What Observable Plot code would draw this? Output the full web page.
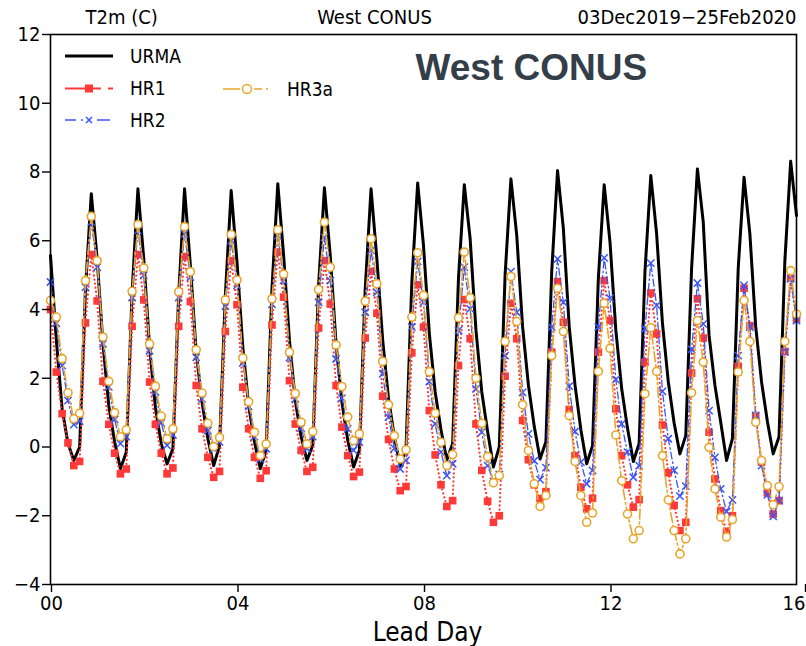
<!DOCTYPE html>
<html><head><meta charset="utf-8">
<script src="https://cdn.jsdelivr.net/npm/d3@7"></script>
<script src="https://cdn.jsdelivr.net/npm/@observablehq/plot@0.6"></script>
<style>body{margin:0;background:#fff}#chart{width:806px;height:646px}</style>
</head><body><div id="chart"></div>
<script>
// 3-hourly values, lead day 0 .. 16
const urma = [
 5.57,3.1,1.1,0.1,-0.39,0.0,4.6,7.37,
 5.48,3.0,1.2,0.15,-0.63,-0.15,4.5,7.51,
 5.47,2.9,1.15,0.1,-0.49,-0.05,4.45,7.51,
 5.28,2.76,1.3,0.24,-0.54,0.04,4.41,7.46,
 5.38,2.9,1.2,0.15,-0.63,-0.1,4.6,7.66,
 5.57,3.1,1.35,0.3,-0.39,0.05,4.7,7.54,
 5.57,3.0,1.3,0.2,-0.58,-0.1,4.6,7.51,
 5.47,3.1,1.4,0.3,-0.55,-0.05,4.8,7.68,
 5.86,3.3,1.6,0.5,-0.38,0.1,4.9,7.63,
 6.06,3.4,1.6,0.45,-0.58,0.0,5.0,7.8,
 6.15,3.5,1.8,0.6,-0.35,0.15,5.1,8.04,
 6.35,3.5,1.8,0.5,-0.49,0.04,4.9,7.63,
 5.96,3.4,1.7,0.55,-0.42,0.1,5.1,7.9,
 6.2,3.6,1.9,0.7,-0.2,0.33,5.2,8.09,
 6.54,3.24,1.8,0.72,-0.39,0.24,5.2,7.85,
 6.2,3.5,1.9,0.75,-0.2,0.3,5.4,8.31,
 6.73];
const hr1 = [
 4.0,2.18,0.97,0.12,-0.54,-0.42,3.61,5.6,
 4.25,1.91,0.66,-0.18,-0.78,-0.64,3.51,5.6,
 4.28,1.89,0.66,-0.18,-0.78,-0.61,3.51,5.54,
 4.23,1.79,0.53,-0.3,-0.88,-0.71,3.36,5.42,
 4.14,1.74,0.53,-0.3,-0.91,-0.69,3.55,5.67,
 4.36,1.93,0.67,-0.1,-0.71,-0.59,3.46,5.42,
 4.16,1.79,0.58,-0.25,-0.86,-0.73,3.17,5.11,
 3.89,1.48,0.22,-0.64,-1.27,-1.15,2.74,4.72,
 3.49,1.06,-0.23,-1.1,-1.73,-1.56,2.37,4.29,
 3.15,0.67,-0.68,-1.58,-2.19,-2.0,2.06,4.18,
 3.15,0.77,-0.37,-1.1,-1.5,-1.3,2.76,4.81,
 3.63,1.09,-0.25,-1.17,-1.8,-1.49,2.76,4.84,
 3.68,1.11,-0.25,-1.1,-1.75,-1.53,2.47,4.48,
 3.29,0.64,-0.75,-1.7,-2.43,-2.19,2.15,4.31,
 3.17,0.43,-0.93,-1.85,-2.48,-2.0,2.35,4.62,
 3.53,0.9,-0.44,-1.33,-1.95,-1.56,2.78,4.91,
 3.73];
const hr2 = [
 4.8,3.6,2.37,1.35,0.65,0.75,4.65,6.54,
 5.23,3.0,1.75,0.8,0.1,0.3,4.35,6.3,
 5.0,2.8,1.6,0.7,0.05,0.35,4.35,6.2,
 4.94,2.61,1.4,0.48,-0.05,0.15,4.1,6.0,
 4.7,2.45,1.18,0.3,-0.35,-0.05,4.15,6.15,
 4.85,2.6,1.4,0.55,-0.05,0.3,4.21,6.1,
 4.84,2.56,1.42,0.53,-0.1,0.14,3.92,5.72,
 4.5,2.13,0.87,-0.04,-0.64,-0.39,3.49,5.4,
 4.21,1.9,0.67,-0.15,-0.83,-0.49,3.39,5.23,
 4.02,1.69,0.43,-0.54,-1.0,-0.8,2.66,5.1,
 3.92,1.59,0.38,-0.4,-0.95,-0.6,3.49,5.47,
 4.21,1.77,0.45,-0.44,-1.07,-0.68,3.49,5.5,
 4.33,1.96,0.67,-0.15,-0.88,-0.54,3.44,5.35,
 4.12,1.62,0.24,-0.68,-1.43,-1.14,2.84,4.77,
 3.58,1.06,-0.3,-1.22,-1.88,-1.54,2.66,4.7,
 3.49,0.92,-0.54,-1.39,-2.02,-1.56,2.76,4.89,
 3.68];
const hr3a = [
 4.26,3.78,2.57,1.58,0.82,0.98,4.84,6.71,
 5.42,3.2,1.91,1.0,0.3,0.5,4.53,6.47,
 5.21,3.0,1.77,0.9,0.24,0.53,4.52,6.41,
 5.1,2.83,1.57,0.69,0.01,0.28,4.28,6.18,
 4.86,2.59,1.32,0.43,-0.25,0.09,4.31,6.32,
 5.03,2.76,1.56,0.72,0.09,0.45,4.58,6.54,
 5.23,2.97,1.76,0.87,0.18,0.38,4.24,6.06,
 4.75,2.49,1.23,0.33,-0.35,-0.08,3.78,5.65,
 4.41,2.19,0.98,0.14,-0.54,-0.22,3.76,5.67,
 4.34,2.0,0.69,-0.28,-1.04,-0.83,3.07,4.96,
 3.65,1.23,-0.1,-1.07,-1.73,-1.41,2.66,4.62,
 3.36,0.91,-0.42,-1.41,-2.19,-1.92,2.2,4.18,
 2.87,0.35,-0.98,-1.95,-2.67,-2.43,1.55,3.47,
 2.2,-0.25,-1.54,-2.43,-3.11,-2.67,1.58,3.68,
 2.47,-0.01,-1.22,-2.04,-2.62,-2.11,2.18,4.26,
 3.07,0.72,-0.39,-1.12,-1.68,-1.15,3.07,5.13,
 3.87];
const seriesNames = ["URMA", "HR1", "HR2", "HR3a"];
const xTicks = [0, 4, 8, 12];
const xTickLast = [16];
const yTicks = [-4, -2, 0, 2, 4, 6, 8, 10, 12];
const titleLeft = "T2m (C)";
const titleMid = "West CONUS";
const titleRight = "03Dec2019\u221225Feb2020";
const bigLabel = "West CONUS";
const xLabel = "Lead Day";
const stepsPerDay = 8;

const rows = vals => vals.map((v, i) => ({day: i / stepsPerDay, v}));
const F = "'DejaVu Sans Condensed','DejaVu Sans',sans-serif";
const RED = "#ff3838", BLUE = "#3a55f5", ORANGE = "#e9a52b";

const plot = Plot.plot({
  width: 806, height: 646,
  marginLeft: 50, marginRight: 10, marginTop: 34, marginBottom: 62,
  style: {fontFamily: F, fontSize: "20px", color: "#000", background: "#fff", overflow: "visible"},
  x: {domain: [0, 16], label: null},
  y: {domain: [-4, 12], label: null},
  marks: [
    Plot.line(rows(urma), {x: "day", y: "v", stroke: "#000", strokeWidth: 3}),
    Plot.line(rows(hr1), {x: "day", y: "v", stroke: RED, strokeWidth: 2.2, strokeDasharray: "0.1 4", strokeLinecap: "round"}),
    Plot.dot(rows(hr1), {x: "day", y: "v", symbol: "square", fill: RED, r: 4.3}),
    Plot.line(rows(hr2), {x: "day", y: "v", stroke: BLUE, strokeWidth: 1.3, strokeDasharray: "7 3 1.5 3"}),
    Plot.dot(rows(hr2), {x: "day", y: "v", symbol: "times", stroke: BLUE, r: 3.4, strokeWidth: 1.5}),
    Plot.line(rows(hr3a), {x: "day", y: "v", stroke: ORANGE, strokeWidth: 1.6, strokeDasharray: "10 3 2 3"}),
    Plot.dot(rows(hr3a), {x: "day", y: "v", symbol: "circle", stroke: ORANGE, fill: "#fff", r: 4, strokeWidth: 1.6}),
    Plot.frame({stroke: "#000", strokeWidth: 1.6}),
    Plot.axisX({ticks: xTicks, tickSize: 8, tickPadding: 3, tickFormat: d3.format("02d"), fontSize: 20, label: null, strokeWidth: 1.4, dx: 1}),
    Plot.axisX({ticks: xTickLast, tickSize: 8, tickPadding: 3, tickFormat: d3.format("02d"), fontSize: 20, label: null, strokeWidth: 1.4, textAnchor: "end", dx: 9}),
    Plot.axisY({ticks: yTicks, tickSize: 8, tickPadding: 2, fontSize: 20, label: null, strokeWidth: 1.4}),
    Plot.text([xLabel], {text: d => d, frameAnchor: "bottom", dx: 4, dy: 48, lineAnchor: "middle", fontSize: 26}),
    Plot.text([titleLeft], {text: d => d, frameAnchor: "top-left", dx: 35, dy: -17, textAnchor: "start", lineAnchor: "middle", fontSize: 20}),
    Plot.text([titleMid], {text: d => d, frameAnchor: "top-left", dx: 324, dy: -17, textAnchor: "middle", lineAnchor: "middle", fontSize: 20}),
    Plot.text([titleRight], {text: d => d, frameAnchor: "top-right", dx: 0, dy: -17, textAnchor: "end", lineAnchor: "middle", fontSize: 20}),
    Plot.text([bigLabel], {text: d => d, frameAnchor: "top-left", dx: 365, dy: 34, textAnchor: "start", lineAnchor: "middle", fontSize: 37, fontWeight: "bold", fontFamily: "'Liberation Sans',Arial,sans-serif", fill: "#333e48"})
  ]
});

// legend (inside the plot, top-left)
const svg = d3.select(plot);
const lg = svg.append("g").attr("font-family", F).attr("font-size", 19).attr("text-anchor", "start");
const items = [
  {name: seriesNames[0], ty: 56, tx: 130},
  {name: seriesNames[1], ty: 88.5, tx: 130},
  {name: seriesNames[2], ty: 120, tx: 130},
  {name: seriesNames[3], ty: 89, tx: 287}
];
// URMA
lg.append("line").attr("x1", 65).attr("x2", 113).attr("y1", 56).attr("y2", 56).attr("stroke", "#000").attr("stroke-width", 3);
// HR1
lg.append("line").attr("x1", 65).attr("x2", 101).attr("y1", 88.5).attr("y2", 88.5).attr("stroke", RED).attr("stroke-width", 2);
lg.append("line").attr("x1", 108).attr("x2", 113).attr("y1", 88.5).attr("y2", 88.5).attr("stroke", RED).attr("stroke-width", 2);
lg.append("rect").attr("x", 85).attr("y", 84.5).attr("width", 8).attr("height", 8).attr("fill", RED);
// HR2
lg.append("line").attr("x1", 65).attr("x2", 76).attr("y1", 120).attr("y2", 120).attr("stroke", BLUE).attr("stroke-width", 1.5);
lg.append("line").attr("x1", 81).attr("x2", 83).attr("y1", 120).attr("y2", 120).attr("stroke", BLUE).attr("stroke-width", 1.5);
lg.append("path").attr("d", "M86,117L92,123M92,117L86,123").attr("stroke", BLUE).attr("stroke-width", 1.5);
lg.append("line").attr("x1", 97).attr("x2", 110).attr("y1", 120).attr("y2", 120).attr("stroke", BLUE).attr("stroke-width", 1.5);
// HR3a
lg.append("line").attr("x1", 223).attr("x2", 240).attr("y1", 89).attr("y2", 89).attr("stroke", ORANGE).attr("stroke-width", 1.5);
lg.append("line").attr("x1", 254).attr("x2", 262).attr("y1", 89).attr("y2", 89).attr("stroke", ORANGE).attr("stroke-width", 1.5);
lg.append("line").attr("x1", 266).attr("x2", 268).attr("y1", 89).attr("y2", 89).attr("stroke", ORANGE).attr("stroke-width", 1.5);
lg.append("circle").attr("cx", 247).attr("cy", 89).attr("r", 4.5).attr("fill", "#fff").attr("stroke", ORANGE).attr("stroke-width", 1.5);
items.forEach(it => {
  lg.append("text").attr("x", it.tx).attr("y", it.ty).attr("dy", "0.36em").text(it.name);
});

document.getElementById("chart").appendChild(plot);
</script></body></html>
